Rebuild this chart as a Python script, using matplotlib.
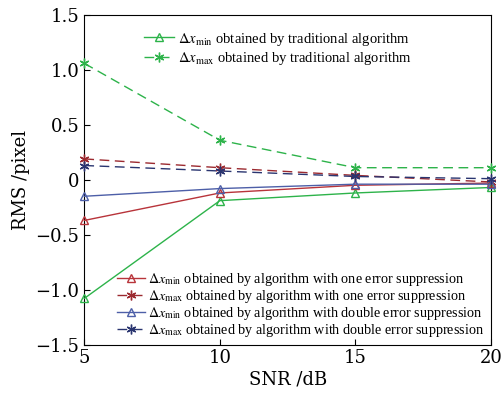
import matplotlib.pyplot as plt

# SNR levels (dB)
snr = [5, 10, 15, 20]

# RMS values
trad_min = [-1.08, -0.19, -0.12, -0.07]
trad_max = [1.06, 0.36, 0.11, 0.11]
one_min = [-0.37, -0.12, -0.05, -0.03]
one_max = [0.19, 0.11, 0.04, -0.02]
dbl_min = [-0.15, -0.08, -0.04, -0.04]
dbl_max = [0.13, 0.08, 0.03, 0.01]

plt.rcParams['font.family'] = ['DejaVu Serif']
plt.rcParams['mathtext.fontset'] = 'stix'

green = '#2db34a'
red = '#b8343a'
red2 = '#9c2a30'
blue = '#4d5fa8'
navy = '#2a3570'
star = (6, 2, 0)

fig, ax = plt.subplots(figsize=(5.02, 3.96), dpi=100)
fig.subplots_adjust(left=0.168, right=0.978, top=0.962, bottom=0.13)

common = dict(lw=1, clip_on=False, zorder=3)
l1, = ax.plot(snr, trad_min, '-', color=green, marker='^', mfc='none', ms=6, **common,
              label=r'$\Delta x_{\rm min}$ obtained by traditional algorithm')
l2, = ax.plot(snr, trad_max, '--', color=green, marker=star, ms=7, dashes=(7, 4), **common,
              label=r'$\Delta x_{\rm max}$ obtained by traditional algorithm')
l3, = ax.plot(snr, one_min, '-', color=red, marker='^', mfc='none', ms=6, **common,
              label=r'$\Delta x_{\rm min}$ obtained by algorithm with one error suppression')
l4, = ax.plot(snr, one_max, '--', color=red2, marker=star, ms=7, dashes=(7, 4), **common,
              label=r'$\Delta x_{\rm max}$ obtained by algorithm with one error suppression')
l5, = ax.plot(snr, dbl_min, '-', color=blue, marker='^', mfc='none', ms=6, **common,
              label=r'$\Delta x_{\rm min}$ obtained by algorithm with double error suppression')
l6, = ax.plot(snr, dbl_max, '--', color=navy, marker=star, ms=7, dashes=(7, 4), **common,
              label=r'$\Delta x_{\rm max}$ obtained by algorithm with double error suppression')

ax.set_xlim(5, 20)
ax.set_ylim(-1.5, 1.5)
ax.set_xticks([5, 10, 15, 20])
ax.set_yticks([-1.5, -1.0, -0.5, 0, 0.5, 1.0, 1.5])
ax.set_yticklabels(['\u22121.5', '\u22121.0', '\u22120.5', '0', '0.5', '1.0', '1.5'])
ax.tick_params(direction='in', labelsize=13, length=4)
ax.set_xlabel('SNR /dB', fontsize=13, labelpad=2)
ax.set_ylabel('RMS /pixel', fontsize=13, labelpad=4)

lp = dict(family='Liberation Serif', size=10.5)
leg1 = ax.legend(handles=[l1, l2], loc='upper left', bbox_to_anchor=(0.13, 0.975),
                 frameon=False, prop=lp, handlelength=2.0, handletextpad=0.3,
                 labelspacing=0.15, numpoints=1, borderpad=0)
ax.add_artist(leg1)
lp2 = dict(family='Liberation Serif', size=10.2)
ax.legend(handles=[l3, l4, l5, l6], loc='lower right', bbox_to_anchor=(1.0, -0.005),
          frameon=False, prop=lp2, handlelength=2.0, handletextpad=0.2,
          labelspacing=0.0, numpoints=1, borderpad=0)

fig.savefig('out.png', dpi=100)
